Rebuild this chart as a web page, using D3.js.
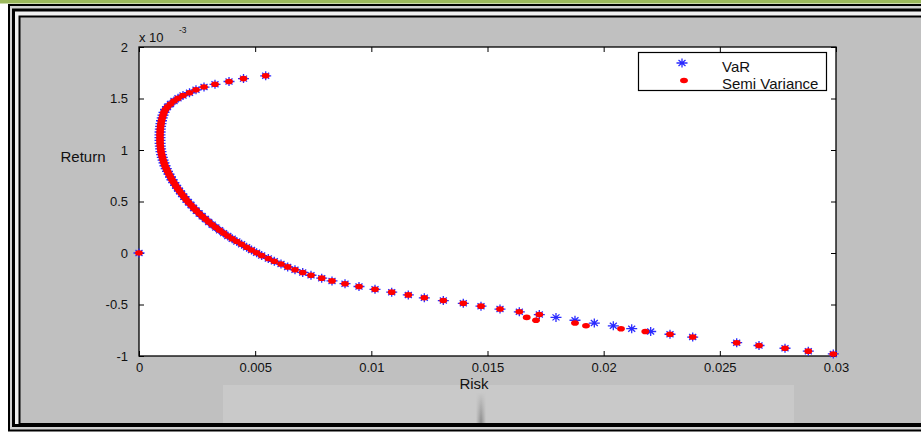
<!DOCTYPE html>
<html><head><meta charset="utf-8">
<script src="https://cdn.jsdelivr.net/npm/d3@7"></script>
<style>
body{margin:0;background:#fff;}
svg{display:block;font-family:"Liberation Sans",Arial,sans-serif;}
</style>
</head><body><svg id="c" width="921" height="432"></svg>
<script>
// Return values, in units of 1e-3
const returnsE3 = [0, 1.720,1.693,1.665,1.638,1.611,1.584,1.556,1.529,1.502,1.475,1.447,1.420,1.393,1.365,1.338,1.311,1.284,1.256,1.229,1.202,1.175,1.147,1.120,1.093,1.065,1.038,1.011,0.984,0.956,0.929,0.902,0.875,0.847,0.820,0.793,0.765,0.738,0.711,0.684,0.656,0.629,0.602,0.575,0.547,0.520,0.493,0.465,0.438,0.411,0.384,0.356,0.329,0.302,0.275,0.247,0.220,0.193,0.165,0.138,0.111,0.084,0.056,0.029,0.002,-0.025,-0.053,-0.080,-0.107,-0.135,-0.162,-0.189,-0.216,-0.244,-0.271,-0.298,-0.325,-0.353,-0.380,-0.407,-0.435,-0.462,-0.489,-0.516,-0.544,-0.571,-0.598,-0.625,-0.653,-0.680,-0.707,-0.735,-0.762,-0.789,-0.816,-0.871,-0.898,-0.925,-0.953,-0.980];
const varRisk = [0, 0.005453,0.004498,0.003874,0.003271,0.002798,0.002453,0.002174,0.001894,0.001679,0.001506,0.001356,0.001227,0.001141,0.001076,0.001033,0.000999,0.000968,0.000947,0.000930,0.000917,0.000908,0.000904,0.000904,0.000904,0.000908,0.000917,0.000930,0.000947,0.000973,0.001003,0.001037,0.001076,0.001119,0.001171,0.001227,0.001291,0.001356,0.001420,0.001498,0.001575,0.001657,0.001743,0.001834,0.001928,0.002023,0.002126,0.002238,0.002350,0.002466,0.002591,0.002720,0.002858,0.003000,0.003151,0.003306,0.003469,0.003641,0.003822,0.004012,0.004210,0.004416,0.004631,0.004842,0.005062,0.005281,0.005565,0.005824,0.006112,0.006400,0.006714,0.007046,0.007403,0.007864,0.008307,0.008867,0.009469,0.010158,0.010877,0.011591,0.012280,0.013098,0.013958,0.014720,0.015538,0.016369,0.017230,0.017948,0.018766,0.019597,0.020415,0.021207,0.022024,0.022855,0.023832,0.025726,0.026686,0.027805,0.028808,0.029884];
const semiVarRisk = [0, 0.005453,0.004498,0.003874,0.003271,0.002798,0.002453,0.002174,0.001894,0.001679,0.001506,0.001356,0.001227,0.001141,0.001076,0.001033,0.000999,0.000968,0.000947,0.000930,0.000917,0.000908,0.000904,0.000904,0.000904,0.000908,0.000917,0.000930,0.000947,0.000973,0.001003,0.001037,0.001076,0.001119,0.001171,0.001227,0.001291,0.001356,0.001420,0.001498,0.001575,0.001657,0.001743,0.001834,0.001928,0.002023,0.002126,0.002238,0.002350,0.002466,0.002591,0.002720,0.002858,0.003000,0.003151,0.003306,0.003469,0.003641,0.003822,0.004012,0.004210,0.004416,0.004631,0.004842,0.005062,0.005281,0.005565,0.005824,0.006112,0.006400,0.006714,0.007046,0.007403,0.007864,0.008307,0.008867,0.009469,0.010158,0.010877,0.011591,0.012280,0.013098,0.013958,0.014720,0.015538,0.016369,0.017230,0.016687,0.017088,0.018766,0.019240,0.020746,0.021792,0.022855,0.023832,0.025726,0.026686,0.027805,0.028808,0.029884];
const xTicks = [0,0.005,0.01,0.015,0.02,0.025,0.03];
const xTickLabels = ["0","0.005","0.01","0.015","0.02","0.025","0.03"];
const yTicks = [-1,-0.5,0,0.5,1,1.5,2];
const yTickLabels = ["-1","-0.5","0","0.5","1","1.5","2"];
const seriesNames = ["VaR","Semi Variance"];

const svg = d3.select("#c");

// ----- frame -----
svg.append("rect").attr("x",0).attr("y",0).attr("width",921).attr("height",432).attr("fill","#fff");
svg.append("rect").attr("x",0).attr("y",0).attr("width",921).attr("height",3.5).attr("fill","#9bb85c");
svg.append("rect").attr("x",9).attr("y",5).attr("width",940).attr("height",425.5)
  .attr("fill","#d0d0d0").attr("stroke","#000").attr("stroke-width",2);
svg.append("rect").attr("x",13.5).attr("y",10).attr("width",940).attr("height",415.5)
  .attr("fill","#f0f0f0").attr("stroke","#000").attr("stroke-width",3);
svg.append("rect").attr("x",19.5).attr("y",16.5).attr("width",940).attr("height",407.5)
  .attr("fill","#c0c0c0").attr("stroke","#000").attr("stroke-width",2);

// faint lighter band at bottom
const defs = svg.append("defs");
const g1 = defs.append("linearGradient").attr("id","spike").attr("x1",0).attr("y1",0).attr("x2",0).attr("y2",1);
g1.append("stop").attr("offset","0").attr("stop-color","#c9c9c9");
g1.append("stop").attr("offset","1").attr("stop-color","#8a8a8a");
const g2 = defs.append("linearGradient").attr("id","spikeH").attr("x1",0).attr("y1",0).attr("x2",1).attr("y2",0);
g2.append("stop").attr("offset","0").attr("stop-color","#fff").attr("stop-opacity",0);
g2.append("stop").attr("offset","0.5").attr("stop-color","#fff").attr("stop-opacity",1);
g2.append("stop").attr("offset","1").attr("stop-color","#fff").attr("stop-opacity",0);
const m = defs.append("mask").attr("id","spikeMask");
m.append("rect").attr("x",476).attr("y",390).attr("width",10).attr("height",34).attr("fill","url(#spikeH)");
svg.append("rect").attr("x",223).attr("y",385).attr("width",571).attr("height",38).attr("fill","#c9c9c9");
svg.append("rect").attr("x",476).attr("y",392).attr("width",10).attr("height",31).attr("fill","url(#spike)").attr("mask","url(#spikeMask)");

// ----- plot -----
const L=139, R=836, T=47, B=356;
const x = d3.scaleLinear().domain([0,0.03]).range([L,R]);
const y = d3.scaleLinear().domain([-1,2]).range([B,T]);

svg.append("rect").attr("x",L).attr("y",T).attr("width",R-L).attr("height",B-T).attr("fill","#fff");

const fmtX = d => xTickLabels[xTicks.indexOf(d)];
const fmtY = d => yTickLabels[yTicks.indexOf(d)];

const axB = svg.append("g").attr("transform",`translate(0,${B})`)
  .call(d3.axisBottom(x).tickValues(xTicks).tickFormat(fmtX).tickSizeInner(-5).tickSizeOuter(0).tickPadding(7));
const axT = svg.append("g").attr("transform",`translate(0,${T})`)
  .call(d3.axisTop(x).tickValues(xTicks).tickFormat("").tickSizeInner(-5).tickSizeOuter(0));
const axL = svg.append("g").attr("transform",`translate(${L},0)`)
  .call(d3.axisLeft(y).tickValues(yTicks).tickFormat(fmtY).tickSizeInner(-5).tickSizeOuter(0).tickPadding(11));
const axR = svg.append("g").attr("transform",`translate(${R},0)`)
  .call(d3.axisRight(y).tickValues(yTicks).tickFormat("").tickSizeInner(-5).tickSizeOuter(0));
[axB,axT,axL,axR].forEach(a=>{
  a.select(".domain").remove();
  a.selectAll("line").attr("stroke","#000");
  a.selectAll("text").attr("fill","#111").style("font-size","13px").style("font-family","'Liberation Sans',Arial,sans-serif");
});
svg.append("rect").attr("x",L).attr("y",T).attr("width",R-L).attr("height",B-T)
  .attr("fill","none").attr("stroke","#000").attr("stroke-width",1.3);

// multiplier
svg.append("text").attr("x",139).attr("y",41.5).attr("font-size",13).attr("fill","#111").text("x 10");
svg.append("text").attr("x",179).attr("y",33).attr("font-size",8.5).attr("fill","#111").text("-3");

// axis labels
svg.append("text").attr("x",474).attr("y",389).attr("text-anchor","middle").attr("font-size",15).attr("fill","#111").text("Risk");
svg.append("text").attr("x",83).attr("y",162).attr("text-anchor","middle").attr("font-size",15).attr("fill","#111").text("Return");

// ----- markers -----
const pts = returnsE3.map((r,i)=>({r, v:varRisk[i], s:semiVarRisk[i]}));
const star = "M-5.5,0H5.5M0,-4.5V4.5M-3.5,-3L3.5,3M-3.5,3L3.5,-3";
svg.append("g").selectAll("path").data(pts).join("path")
  .attr("d",star).attr("transform",d=>`translate(${x(d.v)},${y(d.r)})`)
  .attr("fill","none").attr("stroke","#2a2aff").attr("stroke-width",1.3);
svg.append("g").selectAll("ellipse").data(pts).join("ellipse")
  .attr("cx",d=>x(d.s)).attr("cy",d=>y(d.r)).attr("rx",3.9).attr("ry",2.8).attr("fill","#ff0000");

// ----- legend -----
const lg = svg.append("g");
lg.append("rect").attr("x",638.5).attr("y",52.5).attr("width",188).attr("height",38)
  .attr("fill","#fff").attr("stroke","#000").attr("stroke-width",1.2);
lg.append("path").attr("d",star).attr("transform","translate(682,63)")
  .attr("fill","none").attr("stroke","#2a2aff").attr("stroke-width",1.3);
lg.append("ellipse").attr("cx",684).attr("cy",80.5).attr("rx",3.9).attr("ry",2.8).attr("fill","#ff0000");
lg.append("text").attr("x",722).attr("y",72).attr("font-size",15).attr("fill","#111").text(seriesNames[0]);
lg.append("text").attr("x",722).attr("y",88.5).attr("font-size",15).attr("fill","#111").text(seriesNames[1]);
</script>
</body></html>
